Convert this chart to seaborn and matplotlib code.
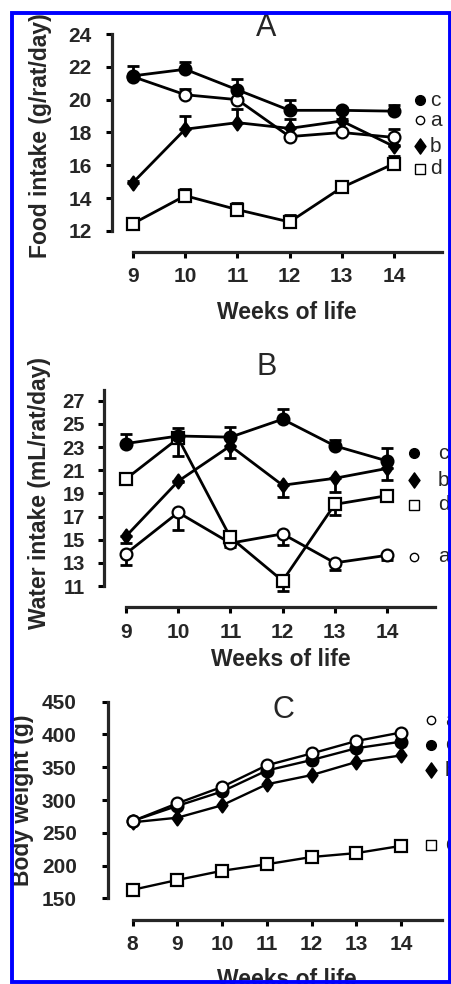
import numpy as np
import pandas as pd
import seaborn as sns
import matplotlib.pyplot as plt
from matplotlib.patches import Rectangle
from matplotlib.path import Path

W, H = 452, 984

# Panel A - food intake (error bars drawn upwards)
weeks_a = [9, 10, 11, 12, 13, 14]
food_c = [21.45, 21.85, 20.6, 19.35, 19.35, 19.3]
food_c_err = [0.6, 0.45, 0.65, 0.6, 0.15, 0.4]
food_a = [21.4, 20.3, 20.0, 17.75, 18.0, 17.7]
food_a_err = [0.0, 0.35, 0.1, 0.1, 0.1, 0.5]
food_b = [14.95, 18.2, 18.6, 18.25, 18.7, 17.15]
food_b_err = [0.1, 0.8, 0.85, 0.55, 0.1, 0.1]
food_d = [12.45, 14.15, 13.3, 12.55, 14.65, 16.1]
food_d_err = [0.2, 0.4, 0.4, 0.4, 0.2, 0.45]

# Panel B - water intake (c upwards, the others downwards)
weeks_b = [9, 10, 11, 12, 13, 14]
water_c = [23.3, 23.95, 23.85, 25.4, 23.1, 21.8]
water_c_err = [0.85, 0.65, 0.85, 0.9, 0.5, 1.1]
water_b = [15.3, 20.05, 23.1, 19.7, 20.3, 21.15]
water_b_err = [0.6, 0.1, 1.05, 1.0, 1.2, 1.0]
water_d = [20.25, 23.75, 15.2, 11.45, 18.05, 18.8]
water_d_err = [0.2, 1.55, 0.8, 0.9, 0.95, 0.2]
water_a = [13.8, 17.35, 14.7, 15.5, 13.0, 13.65]
water_a_err = [1.0, 1.55, 0.2, 1.0, 0.6, 0.4]

# Panel C - body weight
weeks_c = [8, 9, 10, 11, 12, 13, 14]
bw_a = [268, 295, 320, 353, 371, 390, 403]
bw_c = [268, 291, 313, 345, 361, 379, 389]
bw_b = [266, 273, 292, 324, 338, 358, 368]
bw_d = [163, 178, 192, 202, 213, 219, 230]

sns.set_style("ticks")
plt.rcParams["font.family"] = ["Liberation Sans", "DejaVu Sans"]

diamond = Path([(0, 1), (0.72, 0), (0, -1), (-0.72, 0), (0, 1)],
               [Path.MOVETO, Path.LINETO, Path.LINETO, Path.LINETO, Path.CLOSEPOLY])
styles = {
    "c": dict(marker="o", mfc="black", ms=8.5),
    "a": dict(marker="o", mfc="white", ms=8.5),
    "b": dict(marker=diamond, mfc="black", ms=10),
    "d": dict(marker="s", mfc="white", ms=8),
}
legend_styles = {
    "c": dict(marker="o", mfc="black", ms=7),
    "a": dict(marker="o", mfc="white", ms=6),
    "b": dict(marker=diamond, mfc="black", ms=11),
    "d": dict(marker="s", mfc="white", ms=6.5),
}

fig = plt.figure(figsize=(W / 100, H / 100), dpi=100)


def fx(x):
    return x / W


def fy(y):
    return 1 - y / H


def add_ax(x0, y0, x1, y1):
    return fig.add_axes([fx(x0), fy(y1), (x1 - x0) / W, (y1 - y0) / H])


def draw_series(ax, x, y, err, direction, key, lw=2.0):
    st = styles[key]
    if err is not None:
        zeros = [0] * len(err)
        yerr = [zeros, err] if direction == "up" else [err, zeros]
        ax.errorbar(x, y, yerr=yerr, fmt="none", ecolor="black", elinewidth=2,
                    capsize=4.5, capthick=2, zorder=2)
    sns.lineplot(x=x, y=y, ax=ax, color="black", lw=lw, marker=st["marker"],
                 markersize=st["ms"], markerfacecolor=st["mfc"],
                 markeredgecolor="black", markeredgewidth=1.6, zorder=3)


def style_ax(ax, xlim, ylim, xticks, yticks, xbounds, ybounds, ypad, xpad, ysize=15):
    ax.set_xlim(*xlim)
    ax.set_ylim(*ylim)
    ax.set_xticks(xticks, labels=[str(t) for t in xticks], fontweight="bold", fontsize=15)
    ax.set_yticks(yticks, labels=[str(t) for t in yticks], fontweight="bold", fontsize=ysize)
    for s in ["top", "right"]:
        ax.spines[s].set_visible(False)
    ax.spines["left"].set_bounds(*ybounds)
    ax.spines["bottom"].set_bounds(*xbounds)
    for s in ["left", "bottom"]:
        ax.spines[s].set_linewidth(2.3)
    ax.tick_params(width=2.2, length=4.5, color="black")
    ax.tick_params(axis="y", pad=ypad)
    ax.tick_params(axis="x", pad=xpad)
    ax.set_xlabel("")
    ax.set_ylabel("")
    ax.patch.set_alpha(0)


def legend_rows(rows, mx, tx):
    for key, y in rows:
        st = legend_styles[key]
        fig.add_artist(plt.Line2D([fx(mx)], [fy(y)], transform=fig.transFigure,
                                  marker=st["marker"], ms=st["ms"], mfc=st["mfc"],
                                  mec="black", mew=1.0, ls="none"))
        fig.text(fx(tx), fy(y), key, fontsize=15, ha="left", va="center")


# ---- A ----
axA = add_ax(112, 34, 442, 252)
draw_series(axA, weeks_a, food_d, food_d_err, "up", "d")
draw_series(axA, weeks_a, food_b, food_b_err, "up", "b")
draw_series(axA, weeks_a, food_a, food_a_err, "up", "a")
draw_series(axA, weeks_a, food_c, food_c_err, "up", "c")
style_ax(axA, (8.598, 14.92), (10.72, 24), weeks_a, list(range(12, 25, 2)),
         (9, 14.92), (12, 24), ypad=10, xpad=6.5)
fig.text(fx(266), fy(28), "A", fontsize=22, ha="center", va="center")
fig.text(fx(287), fy(312), "Weeks of life", fontsize=16.5, fontweight="bold",
         ha="center", va="center")
fig.text(fx(41), fy(136), "Food intake (g/rat/day)", fontsize=16.5, fontweight="bold",
         rotation=90, ha="center", va="center")
legend_rows([("c", 100), ("a", 120), ("b", 146), ("d", 169)], 420, 430)

# ---- B ----
axB = add_ax(104, 390, 435, 607)
draw_series(axB, weeks_b, water_a, water_a_err, "down", "a")
draw_series(axB, weeks_b, water_d, water_d_err, "down", "d")
draw_series(axB, weeks_b, water_b, water_b_err, "down", "b")
draw_series(axB, weeks_b, water_c, water_c_err, "up", "c")
style_ax(axB, (8.578, 14.92), (9.19, 27.92), weeks_b, list(range(11, 28, 2)),
         (9, 14.92), (11, 27.92), ypad=9.4, xpad=7, ysize=14.5)
fig.text(fx(267), fy(367), "B", fontsize=22, ha="center", va="center")
fig.text(fx(281), fy(660), "Weeks of life", fontsize=16.5, fontweight="bold",
         ha="center", va="center")
fig.text(fx(40), fy(493), "Water intake (mL/rat/day)", fontsize=16.5, fontweight="bold",
         rotation=90, ha="center", va="center")
legend_rows([("c", 453), ("b", 480), ("d", 505), ("a", 557)], 414, 438)

# ---- C ----
axC = add_ax(108, 701.7, 441.7, 920)
draw_series(axC, weeks_c, bw_d, None, None, "d", lw=1.7)
draw_series(axC, weeks_c, bw_b, None, None, "b", lw=1.7)
draw_series(axC, weeks_c, bw_c, None, None, "c", lw=1.7)
draw_series(axC, weeks_c, bw_a, None, None, "a", lw=1.7)
style_ax(axC, (7.448, 14.91), (116.9, 450), weeks_c, list(range(150, 451, 50)),
         (8, 14.91), (150, 450), ypad=18, xpad=6.5)
fig.text(fx(283), fy(710), "C", fontsize=22, ha="center", va="center")
fig.text(fx(287), fy(979), "Weeks of life", fontsize=16.5, fontweight="bold",
         ha="center", va="center")
fig.text(fx(23), fy(800), "Body weight (g)", fontsize=16.5, fontweight="bold",
         rotation=90, ha="center", va="center")
legend_rows([("a", 720), ("c", 745), ("b", 770), ("d", 845)], 431, 445)

# blue frame around the whole figure
fig.add_artist(Rectangle((fx(12), fy(982)), (450.5 - 12) / W, (982 - 13) / H,
                         transform=fig.transFigure, fill=False, ec="#0000ff",
                         lw=2.8, zorder=20))

fig.savefig("out.png", dpi=100)
